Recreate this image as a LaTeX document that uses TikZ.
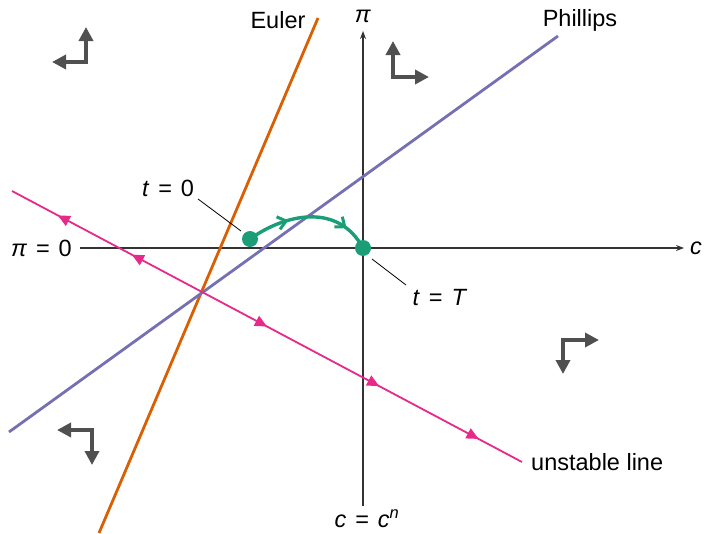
\documentclass[tikz,border=0pt]{standalone}
\usepackage{fontspec}
\setmainfont{Liberation Sans}
\usetikzlibrary{arrows.meta,decorations.markings}
\definecolor{eulerc}{RGB}{217,95,2}
\definecolor{phillc}{RGB}{117,112,179}
\definecolor{unstc}{RGB}{231,41,138}
\definecolor{pathc}{RGB}{27,158,119}
\definecolor{dirc}{RGB}{80,80,80}
\newcommand{\myeq}{\hspace{0.38em}=\hspace{0.38em}}
\tikzset{
  lbl/.style={font=\fontsize{23.5}{28}\selectfont, inner sep=0pt},
  axis/.style={line width=1.3pt, draw=black!80, -{Stealth[length=8pt,width=6pt]}},
  dirarrow/.style={line width=3.5pt, draw=dirc, -{Triangle[length=14pt,width=14pt]}},
  dot/.style={circle, fill=pathc, minimum size=16pt, inner sep=0pt},
  leader/.style={line width=0.8pt, draw=black},
  utip/.style={}
}
\begin{document}
\begin{tikzpicture}[x=1pt,y=-1pt]
\useasboundingbox (0,0) rectangle (707,533);
% axes
\coordinate (hx0) at (80,248);
\coordinate (hx1) at (684,248);
\coordinate (vy0) at (363,506);
\coordinate (vy1) at (363,31);
\draw[axis] (hx0) -- (hx1);
\draw[axis] (vy0) -- (vy1);
\node[lbl, anchor=west] (clab) at (690,248) {\textit{c}};
\node[lbl] (pilab) at (363,16) {\textit{π}};
\node[lbl, anchor=east] (pi0) at (72,248) {\textit{π}\myeq 0};
\node[lbl] (cn) at (367,519) {\textit{c}\myeq\textit{c}\textsuperscript{\textit{n}}};
% Euler
\coordinate (e0) at (318,18);
\coordinate (e1) at (99,533);
\draw[eulerc, line width=2.8pt] (e0) -- (e1);
\node[lbl] (eulab) at (278,20) {Euler};
% Phillips
\coordinate (p0) at (9,432);
\coordinate (p1) at (558,36);
\draw[phillc, line width=2.8pt] (p0) -- (p1);
\node[lbl] (phlab) at (580,20) {Phillips};
% unstable line
\coordinate (u0) at (12,191);
\coordinate (u1) at (522,462);
\draw[unstc, line width=1.8pt,
  postaction={decorate, decoration={markings,
    mark=at position 0.09 with {\arrowreversed{Triangle[length=12pt,width=11pt]}},
    mark=at position 0.235 with {\arrowreversed{Triangle[length=12pt,width=11pt]}},
    mark=at position 0.50 with {\arrow{Triangle[length=12pt,width=11pt]}},
    mark=at position 0.72 with {\arrow{Triangle[length=12pt,width=11pt]}},
    mark=at position 0.915 with {\arrow{Triangle[length=12pt,width=11pt]}}}}]
  (u0) -- (u1);
\node[lbl, anchor=west] (unlab) at (531,462) {unstable line};
% green path
\node[dot] (d0) at (250,239) {};
\node[dot] (d1) at (363,248) {};
\draw[pathc, line width=3.4pt,
  postaction={decorate, decoration={markings,
    mark=at position 0.33 with {\arrow{Straight Barb[length=8pt,width=13pt,line width=3pt]}},
    mark=at position 0.80 with {\arrow{Straight Barb[length=8pt,width=13pt,line width=3pt]}}}}]
  (d0.center) .. controls (285,214) and (338,202) .. (d1.center);
% labels t=0, t=T
\node[lbl] (t0) at (168,188) {\textit{t}\myeq 0};
\node[lbl] (tT) at (440,298) {\textit{t}\myeq\textit{T}};
\coordinate (l0a) at (198,199);
\coordinate (l0b) at (241,231);
\draw[leader] (l0a) -- (l0b);
\coordinate (l1a) at (372,259);
\coordinate (l1b) at (406,285);
\draw[leader] (l1a) -- (l1b);
% direction arrows
\coordinate (c1) at (86,62);
\coordinate (c1u) at (86,27);
\coordinate (c1l) at (52,62);
\draw[dirarrow] (c1) -- (c1u);
\draw[dirarrow] (c1) -- (c1l);
\fill[dirc] ([xshift=-1.75pt,yshift=-1.75pt]c1) rectangle ([xshift=1.75pt,yshift=1.75pt]c1);
\coordinate (c2) at (393,77);
\coordinate (c2u) at (393,41);
\coordinate (c2r) at (429,77);
\draw[dirarrow] (c2) -- (c2u);
\draw[dirarrow] (c2) -- (c2r);
\fill[dirc] ([xshift=-1.75pt,yshift=-1.75pt]c2) rectangle ([xshift=1.75pt,yshift=1.75pt]c2);
\coordinate (c3) at (563,340);
\coordinate (c3r) at (599,340);
\coordinate (c3d) at (563,374);
\draw[dirarrow] (c3) -- (c3r);
\draw[dirarrow] (c3) -- (c3d);
\fill[dirc] ([xshift=-1.75pt,yshift=-1.75pt]c3) rectangle ([xshift=1.75pt,yshift=1.75pt]c3);
\coordinate (c4) at (92,430);
\coordinate (c4l) at (57,430);
\coordinate (c4d) at (92,465);
\draw[dirarrow] (c4) -- (c4l);
\draw[dirarrow] (c4) -- (c4d);
\fill[dirc] ([xshift=-1.75pt,yshift=-1.75pt]c4) rectangle ([xshift=1.75pt,yshift=1.75pt]c4);
\end{tikzpicture}
\end{document}
